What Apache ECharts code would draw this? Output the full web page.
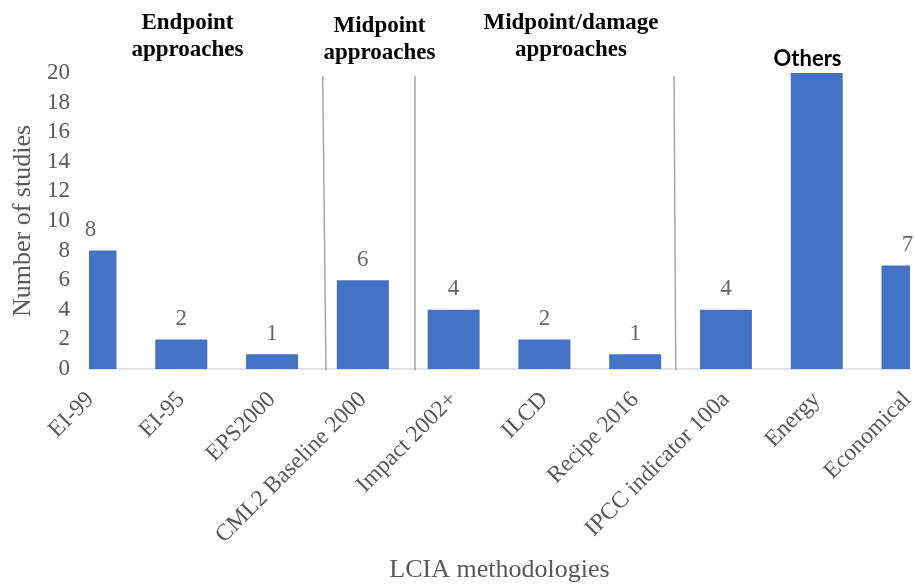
<!DOCTYPE html>
<html>
<head>
<meta charset="utf-8">
<script src="https://cdn.jsdelivr.net/npm/echarts@6/dist/echarts.min.js"></script>
<style>
html,body{margin:0;padding:0;background:#fff;}
#chart{width:914px;height:586px;}
</style>
</head>
<body>
<div id="chart"></div>
<script>
// ---- data ----
var categories = ['EI-99','EI-95','EPS2000','CML2 Baseline 2000','Impact 2002+','ILCD','Recipe 2016','IPCC indicator 100a','Energy','Economical'];
var studies = [8, 2, 1, 6, 4, 2, 1, 4, 20, 7];
var hiddenLabels = ['Energy'];
var yTicks = [0, 2, 4, 6, 8, 10, 12, 14, 16, 18, 20];
var groupHeadings = ['Endpoint\napproaches', 'Midpoint\napproaches', 'Midpoint/damage\napproaches', 'Others'];
// separators between groups: [xTop, xBottom] in category units
var separators = [[3.558, 3.594], [4.574, 4.574], [7.428, 7.447]];

var positions = categories.map(function (c, i) { return i + 1; });
var barData = positions.map(function (p, i) { return [p, studies[i]]; });
var labelData = positions.map(function (p, i) {
  return {
    value: [p, studies[i]],
    label: { show: hiddenLabels.indexOf(categories[i]) < 0 }
  };
});

var grey = '#595959';
var serif = '"Liberation Serif", "Times New Roman", serif';
var BAR_W = 52;

var chart = echarts.init(document.getElementById('chart'), null, { renderer: 'canvas' });
var option = {
  animation: false,
  backgroundColor: '#ffffff',
  grid: { left: 89, right: 4, top: 73, bottom: 217, containLabel: false, outerBoundsMode: 'none' },
  xAxis: {
    type: 'value',
    min: 0.9835,
    max: 10.0275,
    name: 'LCIA methodologies',
    nameLocation: 'middle',
    nameGap: 188,
    nameTextStyle: { color: grey, fontFamily: serif, fontSize: 26 },
    axisLine: { show: true, onZero: false, lineStyle: { color: '#d9d9d9', width: 1.5 } },
    axisTick: { show: false },
    splitLine: { show: false },
    axisLabel: {
      customValues: positions,
      formatter: function (v) { return categories[Math.round(v) - 1] || ''; },
      rotate: 45,
      margin: 27,
      color: grey,
      fontFamily: serif,
      fontSize: 23.5,
      hideOverlap: false
    }
  },
  yAxis: {
    type: 'value',
    min: yTicks[0],
    max: yTicks[yTicks.length - 1],
    interval: yTicks[1] - yTicks[0],
    name: 'Number of studies',
    nameLocation: 'middle',
    nameGap: 52,
    nameTextStyle: { color: grey, fontFamily: serif, fontSize: 26 },
    axisLine: { show: false },
    axisTick: { show: false },
    splitLine: { show: false },
    axisLabel: { color: grey, fontFamily: serif, fontSize: 23, margin: 19 }
  },
  series: [
    {
      type: 'custom',
      data: barData,
      encode: { x: 0, y: 1 },
      renderItem: function (params, api) {
        var top = api.coord([api.value(0), api.value(1)]);
        var base = api.coord([api.value(0), 0]);
        var rect = { x: top[0] - BAR_W / 2, y: top[1], width: BAR_W, height: base[1] - top[1] };
        var cs = params.coordSys;
        var clipped = echarts.graphic.clipRectByRect(rect, { x: cs.x, y: cs.y, width: cs.width, height: cs.height });
        if (!clipped) return null;
        return { type: 'rect', shape: clipped, style: { fill: '#4472C4' } };
      },
      z: 2
    },
    {
      type: 'custom',
      data: separators,
      silent: true,
      renderItem: function (params, api) {
        var p1 = api.coord([api.value(0), 19.8]);
        var p2 = api.coord([api.value(1), -0.1]);
        return {
          type: 'line',
          shape: { x1: p1[0], y1: p1[1], x2: p2[0], y2: p2[1] },
          style: { stroke: '#a6a6a6', lineWidth: 1.5 }
        };
      },
      z: 3
    },
    {
      type: 'scatter',
      data: labelData,
      symbolSize: 0,
      silent: true,
      label: {
        show: true,
        position: 'top',
        distance: 9,
        color: '#404040',
        fontFamily: serif,
        fontSize: 23,
        formatter: function (p) { return String(p.value[1]); }
      },
      z: 4
    }
  ],
  graphic: [
    { type: 'text', x: 187.5, y: 9.5, style: { text: groupHeadings[0], font: 'bold 23px ' + serif, fill: '#000', textAlign: 'center', textVerticalAlign: 'top', lineHeight: 27 } },
    { type: 'text', x: 379.5, y: 12.5, style: { text: groupHeadings[1], font: 'bold 23px ' + serif, fill: '#000', textAlign: 'center', textVerticalAlign: 'top', lineHeight: 27 } },
    { type: 'text', x: 571, y: 9.5, style: { text: groupHeadings[2], font: 'bold 23px ' + serif, fill: '#000', textAlign: 'center', textVerticalAlign: 'top', lineHeight: 27 } },
    { type: 'text', x: 807.5, y: 48, style: { text: groupHeadings[3], font: 'bold 22px Lato, "Open Sans", sans-serif', fill: '#000', textAlign: 'center', textVerticalAlign: 'top', lineHeight: 22 } }
  ]
};
chart.setOption(option);
</script>
</body>
</html>
